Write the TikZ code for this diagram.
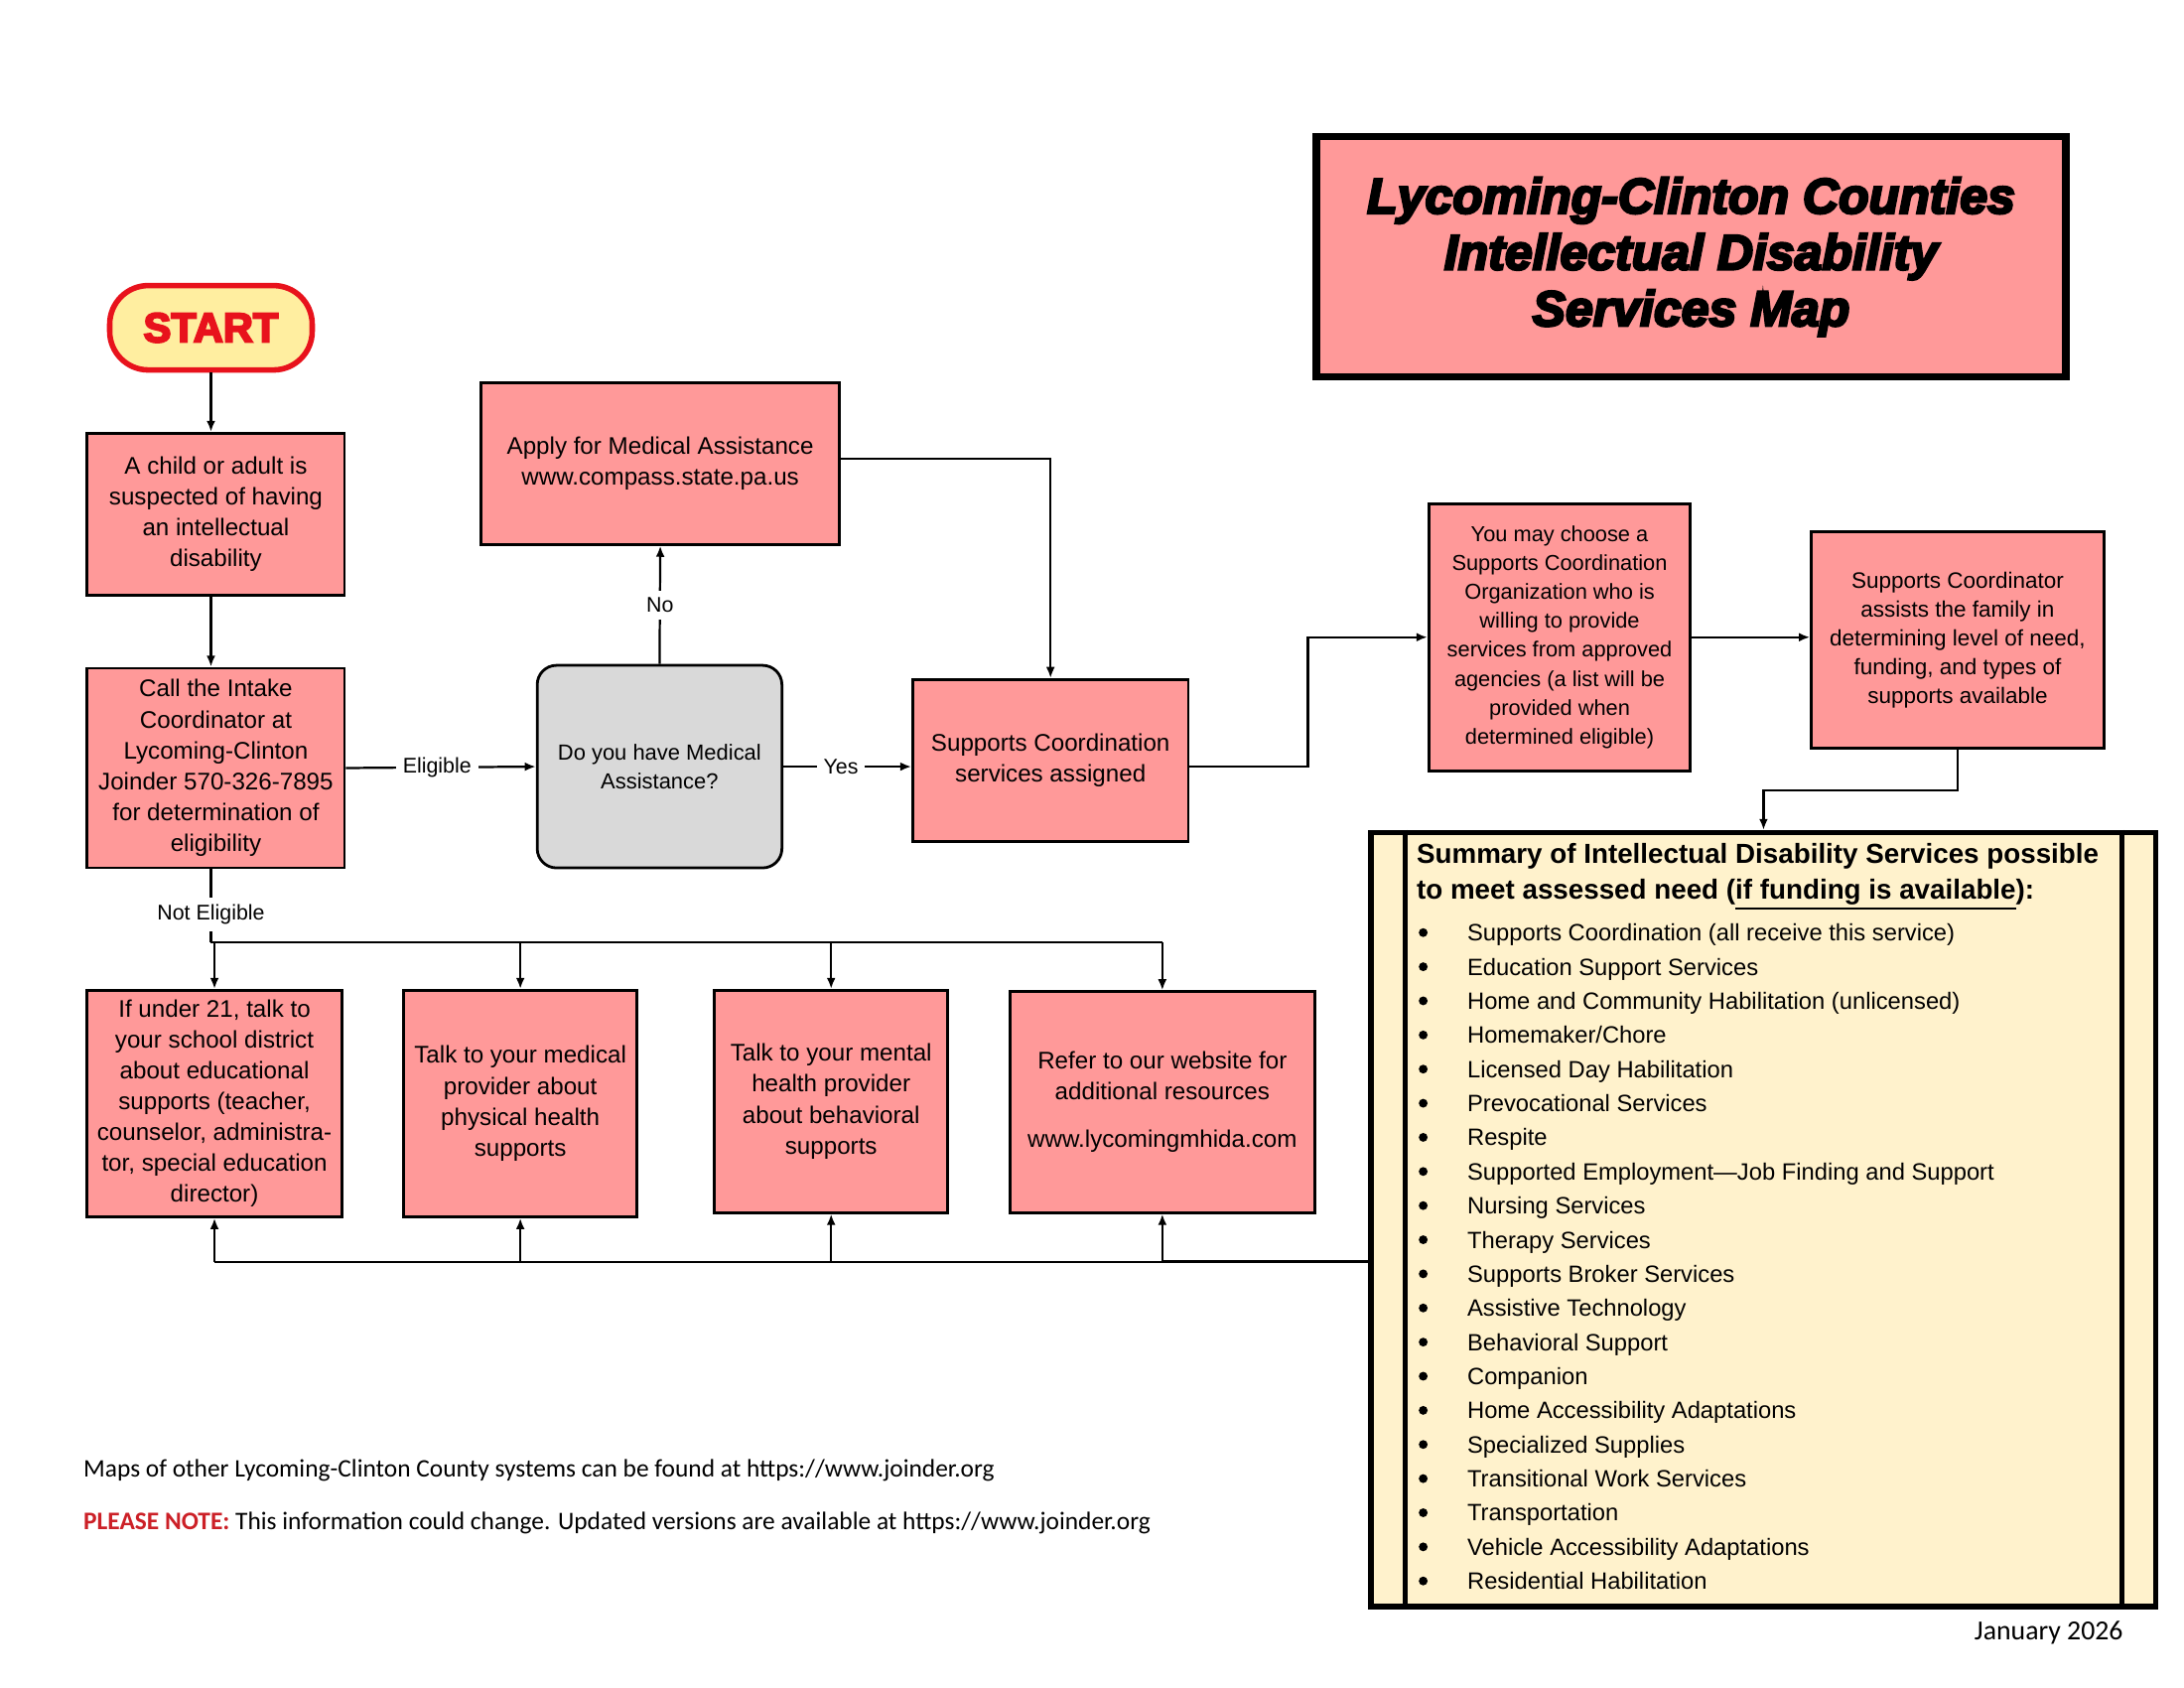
\documentclass[tikz,border=0pt]{standalone}
\usepackage{fontspec}
\setmainfont{Liberation Sans}
\newfontfamily\carl{Carlito}
\newfontfamily\heavyfont{Liberation Sans}[BoldFeatures={FakeBold=5},BoldItalicFeatures={FakeBold=5}]
\usetikzlibrary{arrows.meta}
\definecolor{boxpink}{RGB}{255,153,153}
\definecolor{qgray}{RGB}{217,217,217}
\definecolor{cream}{RGB}{255,242,204}
\definecolor{startfill}{RGB}{255,238,160}
\definecolor{startred}{RGB}{232,18,28}
\definecolor{notered}{RGB}{204,32,39}
\begin{document}
\begin{tikzpicture}[x=0.51pt,y=-0.51pt,
  bx/.style 2 args={draw=black, line width=1pt, fill=boxpink, minimum width=#1*0.51pt,
     minimum height=#2*0.51pt, align=center, inner sep=0pt, font=\fontsize{8.7}{11.2}\selectfont},
  conn/.style={line width=0.8pt, draw=black},
  arr/.style={conn, -{Latex[length=4pt,width=3.2pt]}},
  lab/.style={fill=white, inner sep=2.5pt, font=\fontsize{7.7}{9}\selectfont},
  item/.style={anchor=base west, inner sep=0pt, font=\fontsize{8.55}{10}\selectfont},
  dot/.style={circle, fill=black, inner sep=0pt, minimum size=3.2pt},
  foot/.style={anchor=west, inner sep=0pt, font=\carl\fontsize{9.15}{11}\selectfont}
]
\useasboundingbox[fill=white] (0,0) rectangle (1553,1200);

% title
\node[draw=black, line width=2.6pt, fill=boxpink, minimum width=533*0.51pt, minimum height=171*0.51pt,
      align=center, font=\heavyfont\bfseries\itshape\fontsize{18}{20.4}\selectfont] (title) at (1202.5,182.5)
  {Lycoming-Clinton Counties\\Intellectual Disability\\Services Map};

% start
\node[draw=startred, line width=2pt, fill=startfill, rounded corners=14pt, minimum width=144*0.51pt,
      minimum height=60*0.51pt, text=startred, font=\heavyfont\bfseries\fontsize{15}{17}\selectfont] (start) at (150,233) {START};

% main boxes
\node[bx={183}{115}] (a) at (153.5,365.5) {A child or adult is\\suspected of having\\an intellectual\\disability};
\node[bx={183}{142}] (b) at (153.5,546) {Call the Intake\\Coordinator at\\Lycoming-Clinton\\Joinder 570-326-7895\\for determination of\\eligibility};
\node[bx={174}{144}, fill=qgray, rounded corners=7pt, font=\fontsize{7.9}{10.2}\selectfont] (q) at (469,545) {Do you have Medical\\Assistance?};
\node[bx={255}{115}] (apply) at (469.5,329.5) {Apply for Medical Assistance\\www.compass.state.pa.us};
\node[bx={196}{115}] (sc) at (747,540.5) {Supports Coordination\\services assigned};
\node[bx={186}{190}, font=\fontsize{7.85}{10.5}\selectfont] (you) at (1109,453) {You may choose a\\Supports Coordination\\Organization who is\\willing to provide\\services from approved\\agencies (a list will be\\provided when\\determined eligible)};
\node[bx={208}{154}, font=\fontsize{8.1}{10.5}\selectfont] (coord) at (1392,455) {Supports Coordinator\\assists the family in\\determining level of need,\\funding, and types of\\supports available};

% bottom boxes
\node[bx={181}{161}] (c1) at (152.5,784.5) {If under 21, talk to\\your school district\\about educational\\supports (teacher,\\counselor, administra-\\tor, special education\\director)};
\node[bx={166}{161}] (c2) at (370,784.5) {Talk to your medical\\provider about\\physical health\\supports};
\node[bx={166}{158}] (c3) at (591,783) {Talk to your mental\\health provider\\about behavioral\\supports};
\node[bx={217}{157}] (c4) at (826.5,783.5) {Refer to our website for\\additional resources\\[6pt]www.lycomingmhida.com};

% summary box
\node[draw=black, line width=2pt, fill=cream, minimum width=558*0.51pt, minimum height=550*0.51pt] (sum) at (1254,867) {};
\draw[line width=1.6pt] ([xshift=13.3pt]sum.north west) -- ([xshift=13.3pt]sum.south west);
\draw[line width=1.6pt] ([xshift=-13.3pt]sum.north east) -- ([xshift=-13.3pt]sum.south east);
\node[anchor=base west, inner sep=0pt, font=\bfseries\fontsize{10}{12}\selectfont] (st1) at (1007,614)
  {Summary of Intellectual Disability Services possible};
\node[anchor=base west, inner sep=0pt, font=\bfseries\fontsize{10}{12}\selectfont] (st2) at (1007,639)
  {to meet assessed need (\underline{if funding is available}):};
\foreach \t [count=\i from 0] in {Supports Coordination (all receive this service),
  Education Support Services, Home and Community Habilitation (unlicensed), Homemaker/Chore,
  Licensed Day Habilitation, Prevocational Services, Respite,
  Supported Employment—Job Finding and Support, Nursing Services, Therapy Services,
  Supports Broker Services, Assistive Technology, Behavioral Support, Companion,
  Home Accessibility Adaptations, Specialized Supplies, Transitional Work Services,
  Transportation, Vehicle Accessibility Adaptations, Residential Habilitation}{
  \node[dot] (bul\i) at (1012,{663+24.26*\i}) {};
  \node[item] (it\i) at (1043,{669+24.26*\i}) {\t};
}

% connectors
\coordinate (vx) at (150,0);
\draw[arr] (start.south) -- (start.south |- a.north);
\draw[arr] (a.south -| vx) -- (b.north -| vx);
\draw[arr] (b.east) -- node[lab, pos=0.48]{Eligible} (q.west);
\draw[arr] (q.north) -- node[lab]{No} (apply.south);
\draw[arr] ([yshift=1.8pt]apply.east) -| (sc.north);
\draw[arr] (q.east) -- node[lab, pos=0.45]{Yes} (q.east -| sc.west);
\draw[arr] (sc.east |- q.east) -- (930,545) |- (you.west);
\draw[arr] (you.east) -- (you.east -| coord.west);
\draw[arr] (coord.south) -- (1392,562) -| (sum.north);

\coordinate (ne) at (150,670);
\draw[conn] (b.south -| ne) -- node[lab, pos=0.62]{Not Eligible} (ne);
\draw[conn] (ne) -- (ne -| c4.north);
\foreach \c in {c1,c2,c3,c4}{ \draw[arr] (ne -| \c.north) -- (\c.north); }

\coordinate (bl) at (975,897);
\draw[conn] (sum.west |- bl) -- (bl -| c1.south);
\draw[line width=1.2pt] (sum.west |- bl) -- (bl -| c4.south);
\foreach \c in {c1,c2,c3,c4}{ \draw[arr] (bl -| \c.south) -- (\c.south); }

% footer
\node[foot] (f1) at (59,1045) {Maps of other Lycoming-Clinton County systems can be found at https://www.joinder.org};
\node[foot] (f2) at (59,1083) {{\color{notered}\bfseries PLEASE NOTE:} This information could change. Updated versions are available at https://www.joinder.org};
\node[foot, anchor=east, font=\carl\fontsize{10}{12}\selectfont] (date) at (1510,1161) {January 2026};
\end{tikzpicture}
\end{document}
